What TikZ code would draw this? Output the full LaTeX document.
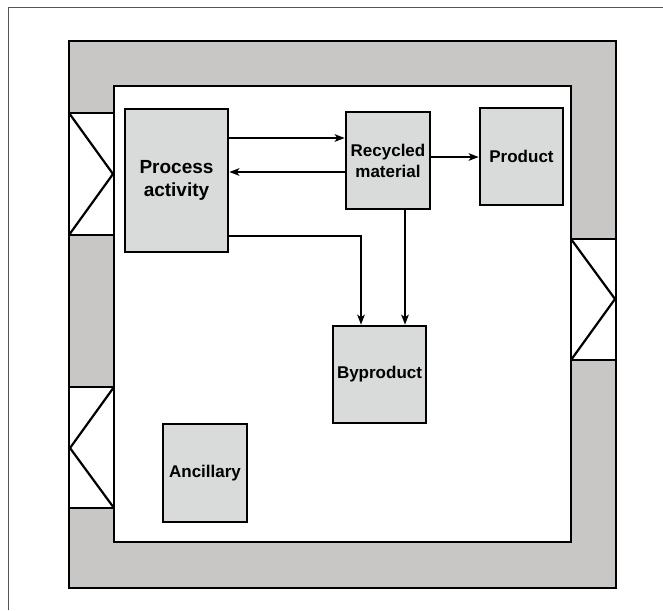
\documentclass[tikz,border=0pt]{standalone}
\usepackage{fontspec}
\setmainfont{Liberation Sans}
\usetikzlibrary{arrows.meta}
\definecolor{wallgray}{RGB}{200,199,197}
\definecolor{boxgray}{RGB}{217,218,218}
\definecolor{framegray}{RGB}{85,85,85}
\tikzset{
  unitbox/.style={draw=black, line width=2.6pt, fill=boxgray, inner sep=0pt,
    align=center, font=\bfseries\fontsize{17}{21}\selectfont},
  wall/.style={draw=black, line width=2.8pt},
  opening/.style={draw=black, line width=2.4pt, fill=white},
  sash/.style={draw=black, line width=2.2pt},
  flow/.style={draw=black, line width=2.2pt,
    -{Stealth[length=10pt,width=7.5pt,inset=2.5pt]}},
}
\begin{document}
\begin{tikzpicture}[x=1pt,y=-1pt]
  \useasboundingbox (0,0) rectangle (663,610);
  % thin page frame (top and left edges)
  \draw[framegray, line width=1.3pt] (8.5,610) -- (8.5,7.5) -- (663,7.5);

  % building wall
  \fill[wallgray] (69,41) rectangle (616,588);
  \draw[wall] (69,41) rectangle (616,588);
  \draw[wall, fill=white] (114,86) rectangle (571,542);

  % window openings in the wall
  \draw[opening] (69,113) rectangle (114,235);
  \draw[sash] (69,113) -- (113,174) -- (69,235);
  \draw[opening] (69,387) rectangle (114,508);
  \draw[sash] (114,387) -- (70,448) -- (114,508);
  \draw[opening] (571,239) rectangle (616,360);
  \draw[sash] (571,239) -- (615,299) -- (571,360);

  % process units
  \node[unitbox, minimum width=103pt, minimum height=143pt,
        font=\bfseries\fontsize{19}{23}\selectfont]
        (proc) at (176.5,180.5) {Process\\activity};
  \node[unitbox, minimum width=84pt, minimum height=97pt]
        (rec) at (388,160.5) {Recycled\\material};
  \node[unitbox, minimum width=83pt, minimum height=97pt]
        (prod) at (521.5,156.5) {Product};
  \node[unitbox, minimum width=93pt, minimum height=97pt]
        (byp) at (379.5,374.5) {Byproduct};
  \node[unitbox, minimum width=84pt, minimum height=98pt]
        (anc) at (205,473) {Ancillary};

  % material flows
  \draw[flow] ([yshift=42.5pt]proc.east) -- ([yshift=22.5pt]rec.west);
  \draw[flow] ([yshift=-11.5pt]rec.west) -- ([yshift=-11.5pt]rec.west -| proc.east);
  \draw[flow] ([yshift=3.5pt]rec.east) -- ([yshift=3.5pt]rec.east -| prod.west);
  \draw[flow] ([yshift=-55.5pt]proc.east) -| ([xshift=-18.5pt]byp.north);
  \draw[flow] ([xshift=17pt]rec.south) -- ([xshift=17pt]rec.south |- byp.north);
\end{tikzpicture}
\end{document}
